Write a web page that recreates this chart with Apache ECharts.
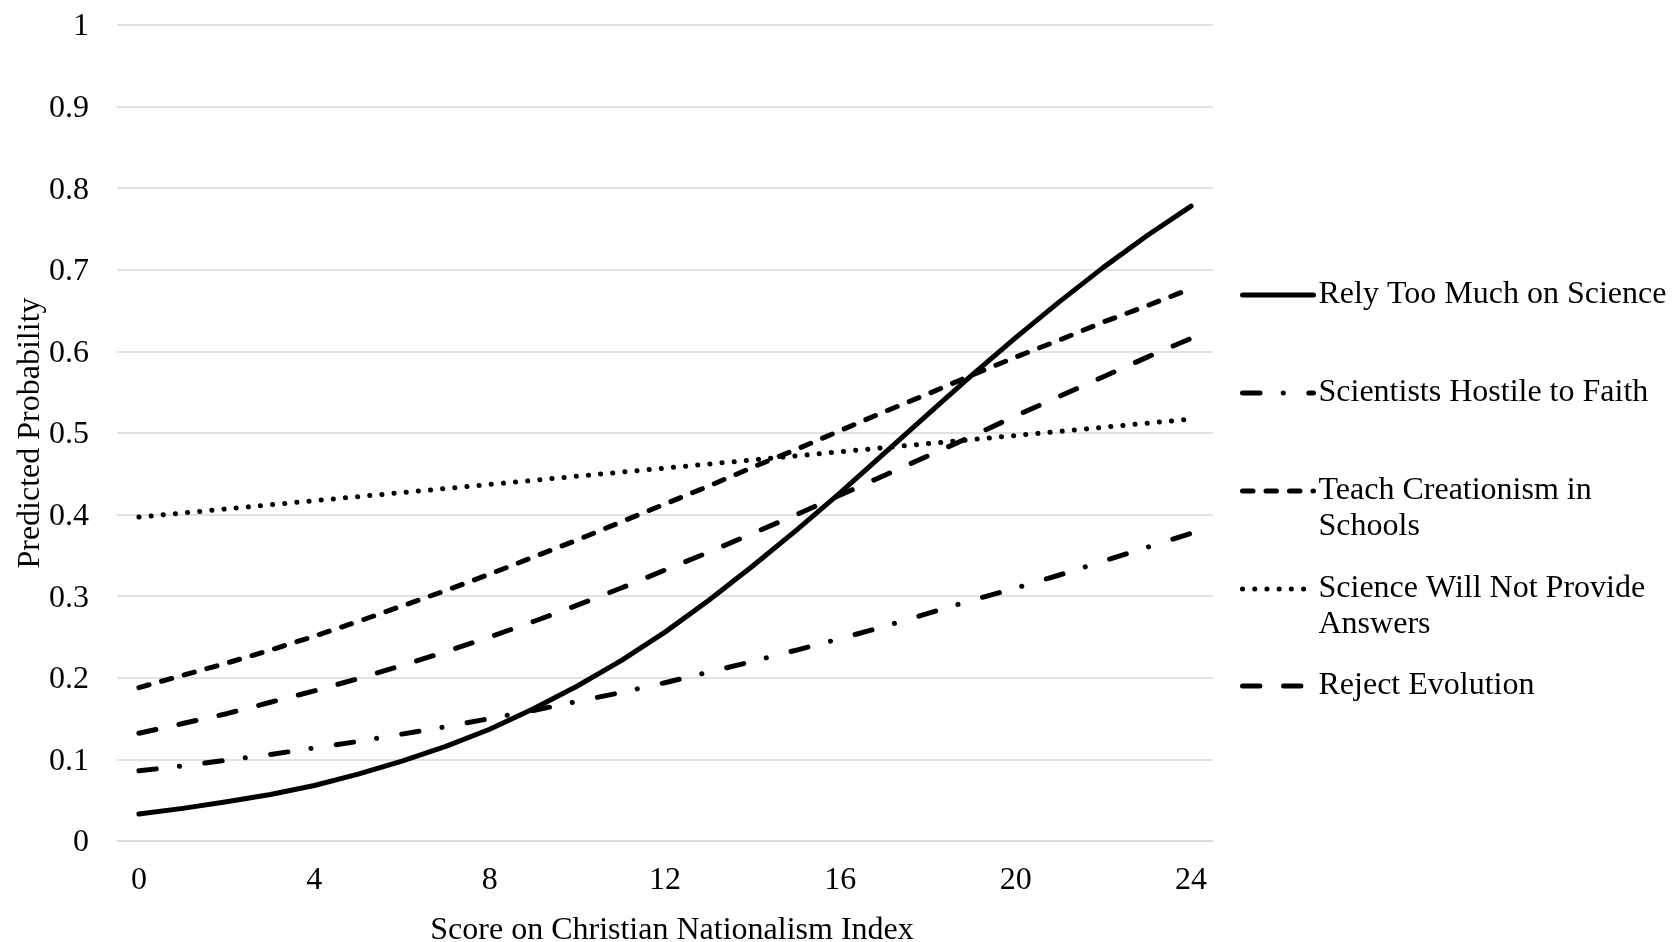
<!DOCTYPE html>
<html>
<head>
<meta charset="utf-8">
<script src="https://cdn.jsdelivr.net/npm/echarts@6/dist/echarts.min.js"></script>
<style>
html,body{margin:0;padding:0;background:#fff;}
#chart{width:1673px;height:942px;}
</style>
</head>
<body>
<div id="chart"></div>
<script>
// ---- data ----
const categories = ['0','1','2','3','4','5','6','7','8','9','10','11','12','13','14','15','16','17','18','19','20','21','22','23','24'];
const yTicks = [0, 0.1, 0.2, 0.3, 0.4, 0.5, 0.6, 0.7, 0.8, 0.9, 1];
const seriesNames = ['Rely Too Much on Science', 'Scientists Hostile to Faith', 'Teach Creationism in Schools', 'Science Will Not Provide Answers', 'Reject Evolution'];
const legendLines = [['Rely Too Much on Science'], ['Scientists Hostile to Faith'], ['Teach Creationism in', 'Schools'], ['Science Will Not Provide', 'Answers'], ['Reject Evolution']];
const relyTooMuch = [0.033,0.040,0.048,0.057,0.068,0.082,0.098,0.116,0.137,0.162,0.190,0.221,0.256,0.295,0.337,0.381,0.427,0.475,0.523,0.571,0.617,0.661,0.703,0.742,0.778];
const hostileToFaith = [0.086,0.092,0.099,0.106,0.114,0.122,0.131,0.140,0.150,0.160,0.171,0.182,0.194,0.207,0.220,0.234,0.248,0.263,0.279,0.295,0.310,0.326,0.343,0.360,0.377];
const teachCreationism = [0.188,0.203,0.218,0.234,0.251,0.269,0.288,0.307,0.327,0.348,0.369,0.391,0.413,0.435,0.458,0.480,0.503,0.526,0.548,0.571,0.593,0.614,0.636,0.656,0.677];
const noAnswers = [0.397,0.402,0.407,0.412,0.417,0.422,0.427,0.432,0.437,0.442,0.447,0.452,0.457,0.462,0.467,0.472,0.477,0.482,0.487,0.492,0.497,0.502,0.507,0.512,0.517];
const rejectEvolution = [0.132,0.144,0.156,0.170,0.184,0.199,0.215,0.232,0.250,0.269,0.289,0.310,0.332,0.354,0.377,0.400,0.424,0.448,0.472,0.496,0.521,0.545,0.569,0.593,0.616];
const seriesValues = [relyTooMuch, hostileToFaith, teachCreationism, noAnswers, rejectEvolution];

// ---- styles ----
const FONT = "'Liberation Serif', 'Times New Roman', serif";
const FS = 32;
const LW = 5;
const dashTypes = ['solid', [17.5, 23.25, 0.1, 25.5], [10.5, 13], [0.1, 12.1], [17.4, 23.6]];
const legendTops = [277, 375, 437, 535, 668];

const chart = echarts.init(document.getElementById('chart'), null, {renderer: 'canvas'});

const series = seriesNames.map((name, i) => ({
  name: name,
  type: 'line',
  data: seriesValues[i],
  symbol: 'none',
  showSymbol: false,
  smooth: false,
  z: 3,
  lineStyle: {color: '#000', width: LW, type: dashTypes[i], cap: 'round', join: 'round'},
  itemStyle: {color: '#000'},
  emphasis: {disabled: true}
}));

const legends = seriesNames.map((name, i) => {
  const lines = legendLines[i];
  // for a two-line label, a leading empty line keeps the first line level with the key
  const label = lines.length > 1 ? '\n' + lines.join('\n') : lines[0];
  return {
    data: [name],
    left: 1240,
    top: legendTops[i],
    orient: 'vertical',
    padding: 0,
    itemWidth: 71,
    itemHeight: 2,
    selectedMode: false,
    formatter: function () { return label; },
    lineStyle: {width: LW},
    itemStyle: {opacity: 0},
    textStyle: {fontFamily: FONT, fontSize: FS, color: '#000', lineHeight: 36}
  };
});

const option = {
  animation: false,
  backgroundColor: '#fff',
  grid: {left: 117, right: 460, top: 25, bottom: 101, containLabel: false, outerBoundsMode: 'none'},
  legend: legends,
  xAxis: {
    type: 'category',
    data: categories,
    boundaryGap: true,
    name: 'Score on Christian Nationalism Index',
    nameLocation: 'middle',
    nameGap: 74,
    nameMoveOverlap: false,
    nameTextStyle: {fontFamily: FONT, fontSize: FS, color: '#000', padding: [0, 0, 0, 14]},
    axisLine: {show: true, lineStyle: {color: '#d9d9d9', width: 1.5}},
    axisTick: {show: false},
    axisLabel: {interval: 3, margin: 24, fontFamily: FONT, fontSize: FS, color: '#000'},
    splitLine: {show: false}
  },
  yAxis: {
    type: 'value',
    min: 0,
    max: 1,
    interval: 0.1,
    name: 'Predicted Probability',
    nameLocation: 'middle',
    nameGap: 70,
    nameMoveOverlap: false,
    nameTextStyle: {fontFamily: FONT, fontSize: FS, color: '#000'},
    axisLine: {show: false},
    axisTick: {show: false},
    axisLabel: {
      margin: 28, fontFamily: FONT, fontSize: FS, color: '#000',
      formatter: function (v) {
        const t = yTicks.find(x => Math.abs(x - v) < 1e-9);
        return t === undefined ? '' : '{v|' + t + '}';
      },
      rich: {v: {fontFamily: FONT, fontSize: FS, color: '#000', padding: [4, 0, 0, 0]}}
    },
    splitLine: {show: true, lineStyle: {color: '#d9d9d9', width: 1.5}}
  },
  series: series
};

chart.setOption(option);
</script>
</body>
</html>
